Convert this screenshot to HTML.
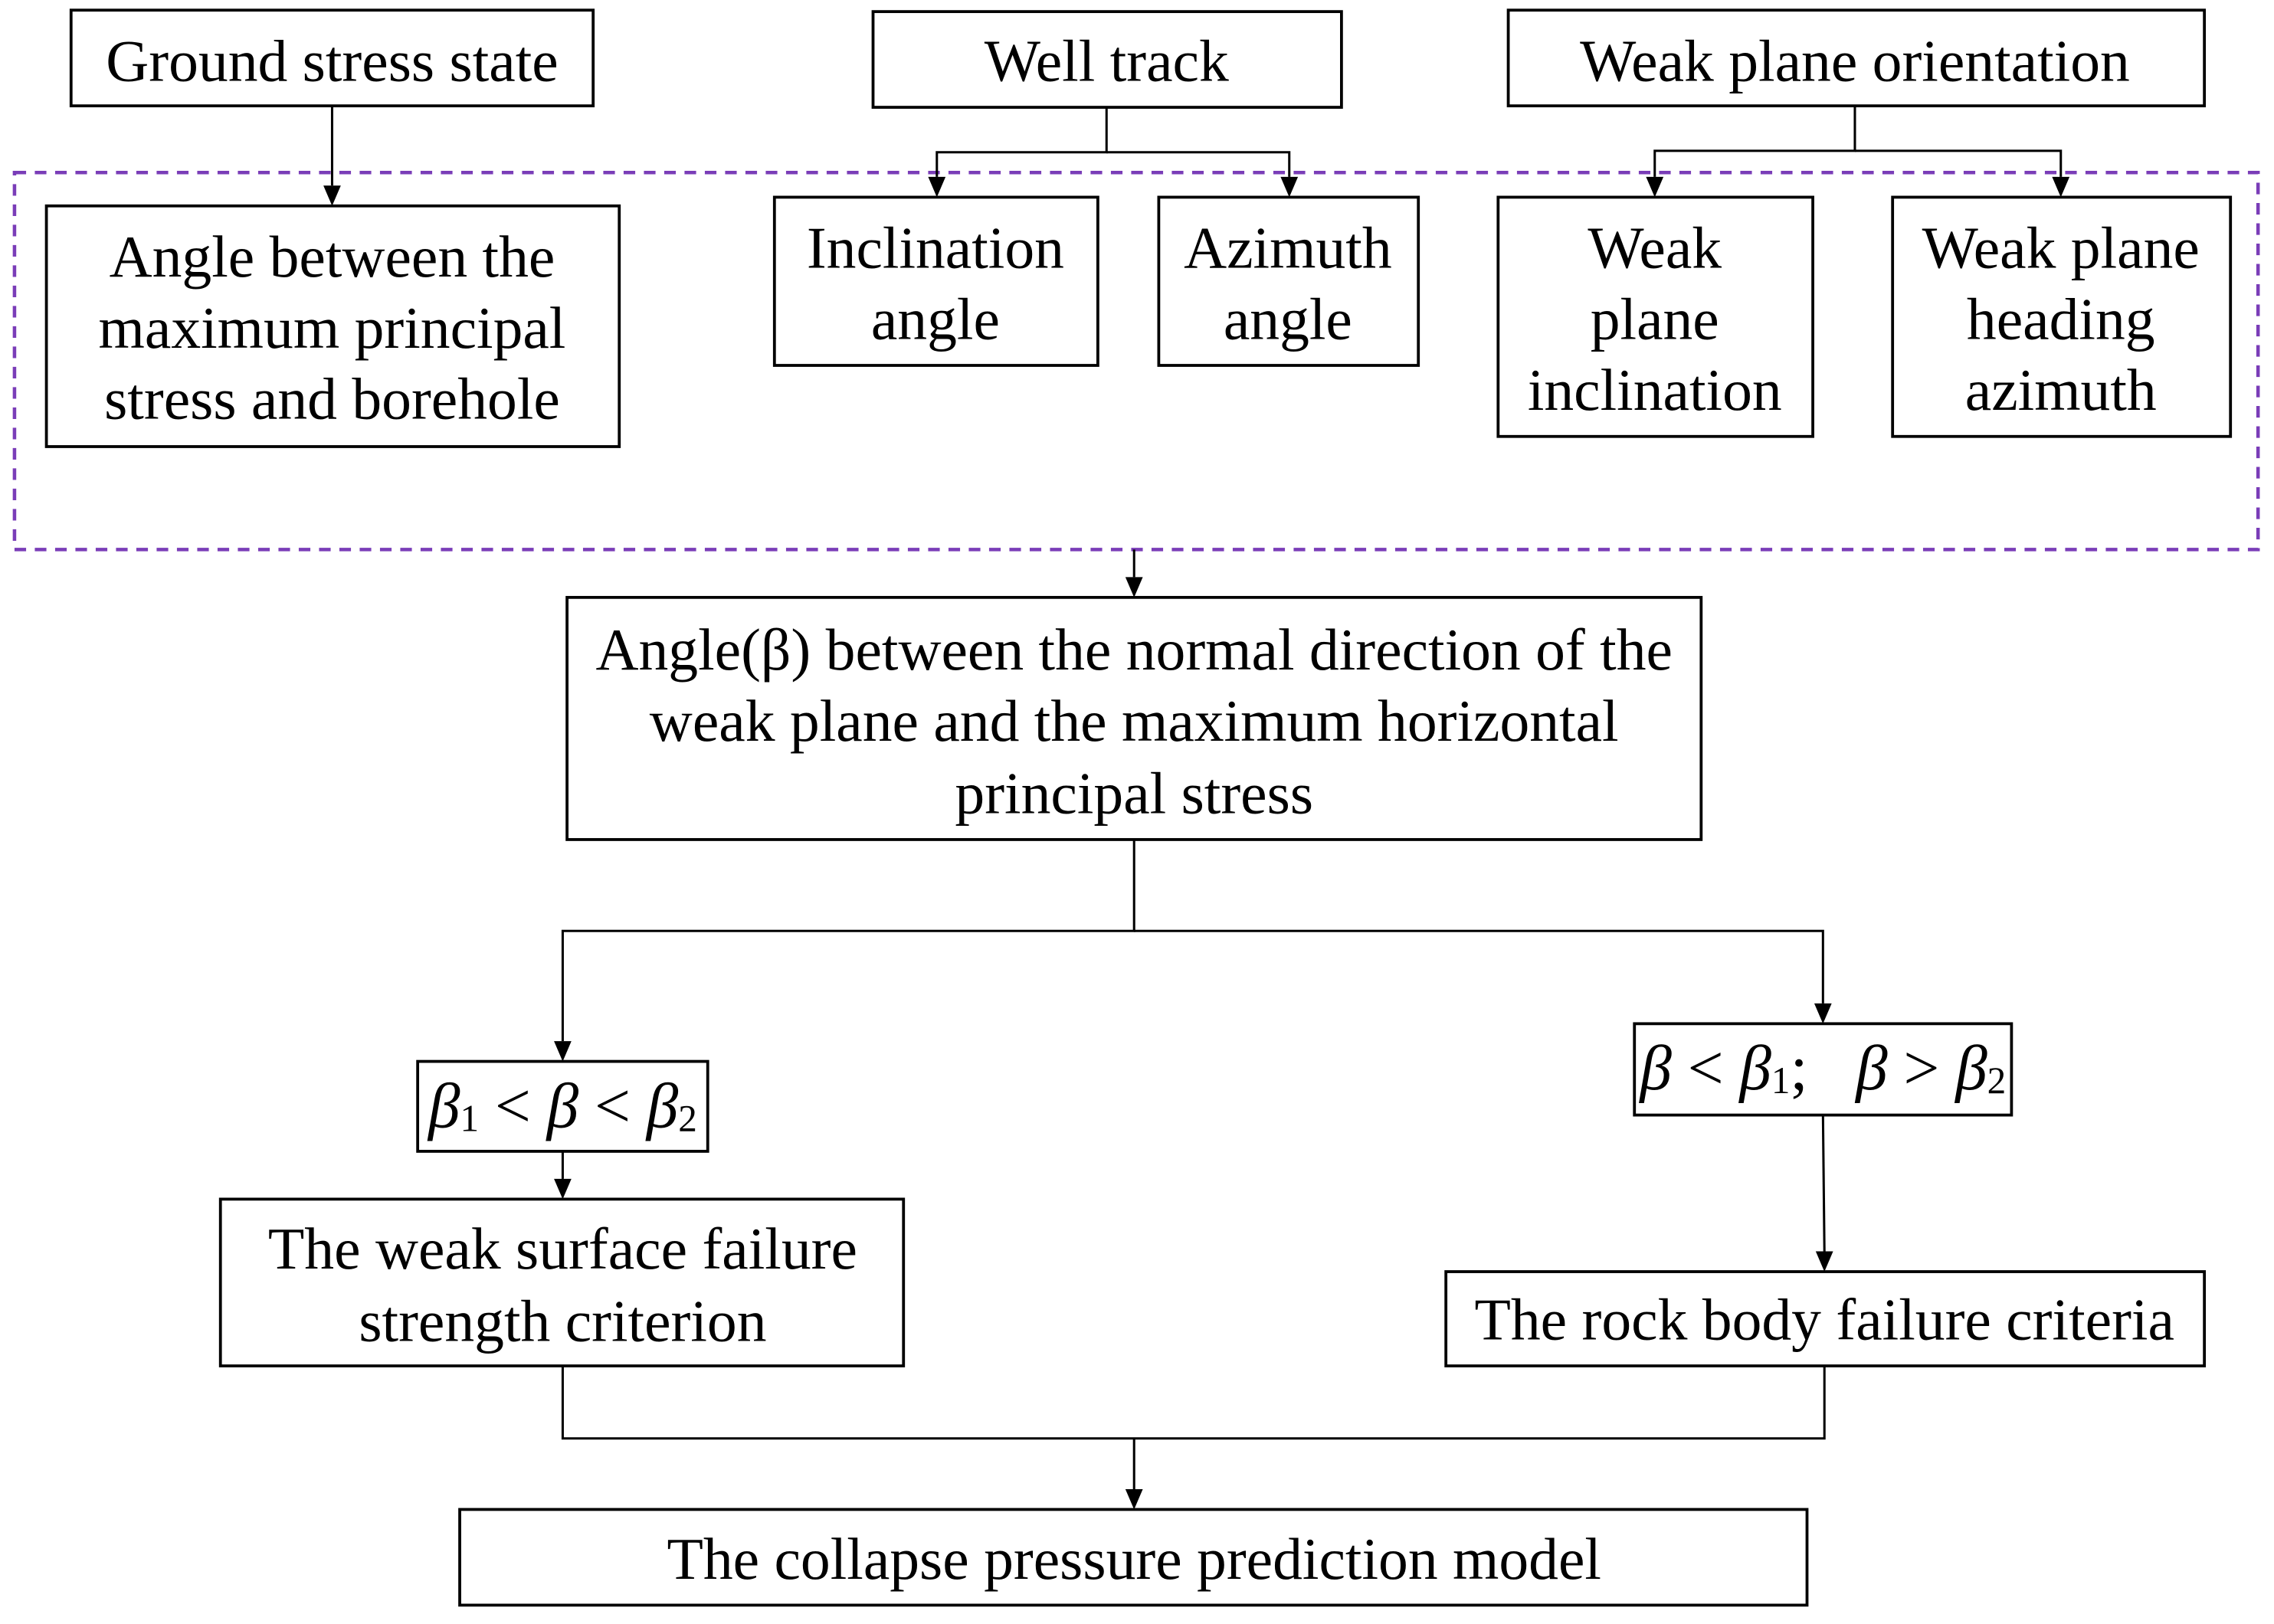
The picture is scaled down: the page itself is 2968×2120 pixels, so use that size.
<!DOCTYPE html>
<html><head><meta charset="utf-8"><style>html,body{margin:0;padding:0;background:#fff}svg{display:block}</style></head>
<body>
<svg width="2968" height="2120" viewBox="0 0 1568 1120" xmlns="http://www.w3.org/2000/svg">
<style>text{font-family:"Liberation Serif",serif;font-size:41px;fill:#000;text-anchor:middle;dominant-baseline:central}.m{font-size:44px}.b{fill:#fff;stroke:#000;stroke-width:2}.l{stroke:#000;stroke-width:1.6;fill:none}</style>
<rect x="10" y="119" width="1547" height="260" fill="none" stroke="#7a3db8" stroke-width="2.4" stroke-dasharray="8,6"/>
<g class="l">
<line x1="229" y1="73" x2="229" y2="128"/>
<polyline points="763,74 763,105 646,105 646,122"/><polyline points="763,105 889,105 889,122"/>
<polyline points="1279,73 1279,104 1141,104 1141,122"/><polyline points="1279,104 1421,104 1421,122"/>
<line x1="782" y1="379" x2="782" y2="398"/>
<polyline points="782,579 782,642 388,642 388,718"/><polyline points="782,642 1257,642 1257,692"/>
<line x1="388" y1="794" x2="388" y2="813"/>
<line x1="1257" y1="769" x2="1258" y2="863"/>
<polyline points="388,942 388,992 1258,992 1258,942"/><line x1="782" y1="992" x2="782" y2="1027"/>
</g>
<g fill="#000">
<path d="M223,128 L235,128 L229,142Z"/>
<path d="M640,122 L652,122 L646,136Z"/><path d="M883,122 L895,122 L889,136Z"/>
<path d="M1135,122 L1147,122 L1141,136Z"/><path d="M1415,122 L1427,122 L1421,136Z"/>
<path d="M776,398 L788,398 L782,412Z"/>
<path d="M382,718 L394,718 L388,732Z"/><path d="M1251,692 L1263,692 L1257,706Z"/>
<path d="M382,813 L394,813 L388,827Z"/><path d="M1252,863 L1264,863 L1258,877Z"/>
<path d="M776,1027 L788,1027 L782,1041Z"/>
</g>
<rect class="b" x="49" y="7" width="360" height="66"/><text x="229" y="42">Ground stress state</text>
<rect class="b" x="602" y="8" width="323" height="66"/><text x="763" y="42">Well track</text>
<rect class="b" x="1040" y="7" width="480" height="66"/><text x="1279" y="42">Weak plane orientation</text>
<rect class="b" x="32" y="142" width="395" height="166"/><text x="229" y="177">Angle between the</text><text x="229" y="226">maximum principal</text><text x="229" y="275">stress and borehole</text>
<rect class="b" x="534" y="136" width="223" height="116"/><text x="645" y="171">Inclination</text><text x="645" y="220">angle</text>
<rect class="b" x="799" y="136" width="179" height="116"/><text x="888" y="171">Azimuth</text><text x="888" y="220">angle</text>
<rect class="b" x="1033" y="136" width="217" height="165"/><text x="1141" y="171">Weak</text><text x="1141" y="220">plane</text><text x="1141" y="269">inclination</text>
<rect class="b" x="1305" y="136" width="233" height="165"/><text x="1421" y="171">Weak plane</text><text x="1421" y="220">heading</text><text x="1421" y="269">azimuth</text>
<rect class="b" x="391" y="412" width="782" height="167"/><text x="782" y="448">Angle(β) between the normal direction of the</text><text x="782" y="497">weak plane and the maximum horizontal</text><text x="782" y="547">principal stress</text>
<rect class="b" x="288" y="732" width="200" height="62"/>
<text class="m" x="388" y="763"><tspan font-style="italic">β</tspan><tspan font-size="26" dy="8">1</tspan><tspan dy="-8"> &lt; </tspan><tspan font-style="italic">β</tspan><tspan> &lt; </tspan><tspan font-style="italic">β</tspan><tspan font-size="26" dy="8">2</tspan></text>
<rect class="b" x="1127" y="706" width="260" height="63"/>
<text class="m" x="1257" y="737" xml:space="preserve"><tspan font-style="italic">β</tspan><tspan> &lt; </tspan><tspan font-style="italic">β</tspan><tspan font-size="26" dy="8">1</tspan><tspan dy="-8">;   </tspan><tspan font-style="italic">β</tspan><tspan> &gt; </tspan><tspan font-style="italic">β</tspan><tspan font-size="26" dy="8">2</tspan></text>
<rect class="b" x="152" y="827" width="471" height="115"/><text x="388" y="861">The weak surface failure</text><text x="388" y="911">strength criterion</text>
<rect class="b" x="997" y="877" width="523" height="65"/><text x="1258" y="910">The rock body failure criteria</text>
<rect class="b" x="317" y="1041" width="929" height="66"/><text x="782" y="1075">The collapse pressure prediction model</text>
</svg>
</body></html>
